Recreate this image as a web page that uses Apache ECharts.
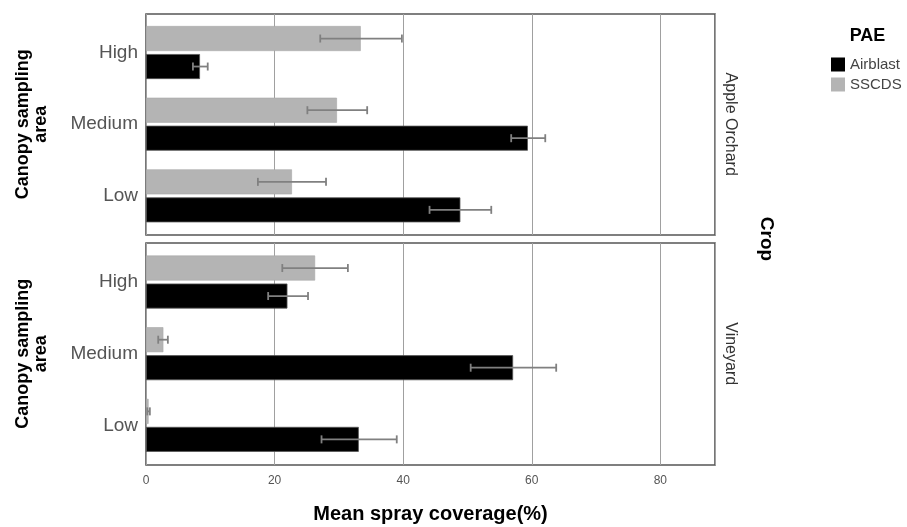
<!DOCTYPE html>
<html>
<head>
<meta charset="utf-8">
<script src="https://cdn.jsdelivr.net/npm/echarts@6/dist/echarts.min.js"></script>
<style>html,body{margin:0;padding:0;background:#fff;}#c{width:907px;height:527px;}</style>
</head>
<body>
<div id="c"></div>
<script>
// Data
const categories = ['Low', 'Medium', 'High'];
const panels = ['Apple Orchard', 'Vineyard'];
const seriesNames = ['Airblast', 'SSCDS'];
const xTicks = [0, 20, 40, 60, 80];
// Apple Orchard
const appleAirblast = [48.9, 59.4, 8.4];
const appleAirblastLow = [44.1, 56.8, 7.3];
const appleAirblastHigh = [53.7, 62.1, 9.6];
const appleSSCDS = [22.7, 29.7, 33.4];
const appleSSCDSLow = [17.4, 25.1, 27.1];
const appleSSCDSHigh = [28.0, 34.4, 39.8];
// Vineyard
const vineAirblast = [33.1, 57.1, 22.0];
const vineAirblastLow = [27.3, 50.5, 19.0];
const vineAirblastHigh = [39.0, 63.8, 25.2];
const vineSSCDS = [0.4, 2.7, 26.3];
const vineSSCDSLow = [0.2, 1.9, 21.2];
const vineSSCDSHigh = [0.6, 3.4, 31.4];

const panelData = [
  {air: appleAirblast, airLo: appleAirblastLow, airHi: appleAirblastHigh, ss: appleSSCDS, ssLo: appleSSCDSLow, ssHi: appleSSCDSHigh},
  {air: vineAirblast, airLo: vineAirblastLow, airHi: vineAirblastHigh, ss: vineSSCDS, ssLo: vineSSCDSLow, ssHi: vineSSCDSHigh}
];

const FONT = '"Liberation Sans", Arial, sans-serif';
const BAR_W = 25;
const GAP = 3;
const X_MAX = 88.5;
const colors = ['#000000', '#b4b4b4'];

const chart = echarts.init(document.getElementById('c'), null, {renderer: 'canvas'});

// grids 0,1: framed panels (border + gridlines); grids 2,3: bar areas
const grids = [
  {left: 146, top: 14, width: 569, height: 221, show: true, borderColor: '#555', borderWidth: 1.6, backgroundColor: 'transparent'},
  {left: 146, top: 243, width: 569, height: 222, show: true, borderColor: '#555', borderWidth: 1.6, backgroundColor: 'transparent'},
  {left: 146, top: 16.7, width: 569, height: 215},
  {left: 146, top: 246.2, width: 569, height: 215}
];

const xAxes = [];
[0, 1].forEach(i => {
  xAxes.push({
    type: 'value', gridIndex: i, min: 0, max: X_MAX, interval: 20,
    axisLine: {show: false}, axisTick: {show: false},
    splitLine: {show: true, lineStyle: {color: '#a0a0a0', width: 1}},
    axisLabel: {show: i === 1, color: '#555', fontFamily: FONT, fontSize: 12, margin: 10,
      formatter: v => xTicks.indexOf(v) >= 0 ? String(v) : ''},
    name: i === 1 ? 'Mean spray coverage(%)' : '',
    nameLocation: 'middle', nameGap: 39,
    nameTextStyle: {fontFamily: FONT, fontSize: 20, fontWeight: 'bold', color: '#000'}
  });
});
[2, 3].forEach(i => {
  xAxes.push({
    type: 'value', gridIndex: i, min: 0, max: X_MAX, interval: 20,
    show: false, splitLine: {show: false}
  });
});

const yAxes = [];
[0, 1].forEach(i => {
  yAxes.push({type: 'value', gridIndex: i, min: 0, max: 1, show: false, splitLine: {show: false}});
});
[0, 1].forEach(i => {
  yAxes.push({
    type: 'category', gridIndex: i + 2, data: categories,
    axisLine: {show: false}, axisTick: {show: false},
    axisLabel: {color: '#555', fontFamily: FONT, fontSize: 19, margin: 8},
    name: 'Canopy sampling\narea', nameLocation: 'middle', nameRotate: 90, nameGap: 96,
    nameTextStyle: {fontFamily: FONT, fontSize: 18, fontWeight: 'bold', color: '#000', lineHeight: 18}
  });
  yAxes.push({
    type: 'category', gridIndex: i + 2, data: categories, position: 'right',
    axisLine: {show: false}, axisTick: {show: false}, axisLabel: {show: false},
    name: panels[i], nameLocation: 'middle', nameRotate: -90, nameGap: 7,
    nameTextStyle: {fontFamily: FONT, fontSize: 16, color: '#333'}
  });
});

const series = [];
panelData.forEach((p, i) => {
  const xi = i + 2;
  const yi = 2 + i * 2;
  series.push({
    name: 'SSCDS', type: 'bar', xAxisIndex: xi, yAxisIndex: yi,
    data: p.ss, barWidth: BAR_W, barGap: (GAP / BAR_W * 100) + '%',
    itemStyle: {color: colors[1], borderColor: '#a8a8a8', borderWidth: 0.6},
    z: 2
  });
  series.push({
    name: 'Airblast', type: 'bar', xAxisIndex: xi, yAxisIndex: yi,
    data: p.air, barWidth: BAR_W, barGap: (GAP / BAR_W * 100) + '%',
    itemStyle: {color: colors[0], borderColor: '#555', borderWidth: 0.8},
    z: 2
  });
  const errData = [];
  categories.forEach((c, k) => {
    errData.push([p.airLo[k], p.airHi[k], k, 0]);
    errData.push([p.ssLo[k], p.ssHi[k], k, 1]);
  });
  series.push({
    type: 'custom', xAxisIndex: xi, yAxisIndex: yi, z: 5,
    data: errData,
    encode: {x: [0, 1], y: 2},
    renderItem: function (params, api) {
      const k = api.value(2);
      const s = api.value(3);
      const p1 = api.coord([api.value(0), k]);
      const p2 = api.coord([api.value(1), k]);
      const off = (BAR_W + GAP) / 2 * (s === 0 ? 1 : -1);
      const y = p1[1] + off;
      const h = 4;
      const style = {stroke: '#808080', lineWidth: 1.8};
      return {
        type: 'group',
        children: [
          {type: 'line', shape: {x1: p1[0], y1: y, x2: p2[0], y2: y}, style: style},
          {type: 'line', shape: {x1: p1[0], y1: y - h, x2: p1[0], y2: y + h}, style: style},
          {type: 'line', shape: {x1: p2[0], y1: y - h, x2: p2[0], y2: y + h}, style: style}
        ]
      };
    }
  });
});

chart.setOption({
  animation: false,
  backgroundColor: '#fff',
  legend: {
    data: seriesNames, orient: 'vertical', left: 831, top: 57,
    itemWidth: 14, itemHeight: 14, itemGap: 5, padding: 0,
    icon: 'rect',
    itemStyle: {borderWidth: 0},
    textStyle: {fontFamily: FONT, fontSize: 15, color: '#444', lineHeight: 15}
  },
  graphic: [
    {
      type: 'text', x: 867.5, y: 36,
      style: {text: 'PAE', font: 'bold 18px ' + FONT, fill: '#000', align: 'center', verticalAlign: 'middle'}
    },
    {
      type: 'text', x: 766.5, y: 239, rotation: -Math.PI / 2,
      style: {text: 'Crop', font: 'bold 19px ' + FONT, fill: '#000', align: 'center', verticalAlign: 'middle'}
    }
  ],
  grid: grids,
  xAxis: xAxes,
  yAxis: yAxes,
  series: series
});
</script>
</body>
</html>
